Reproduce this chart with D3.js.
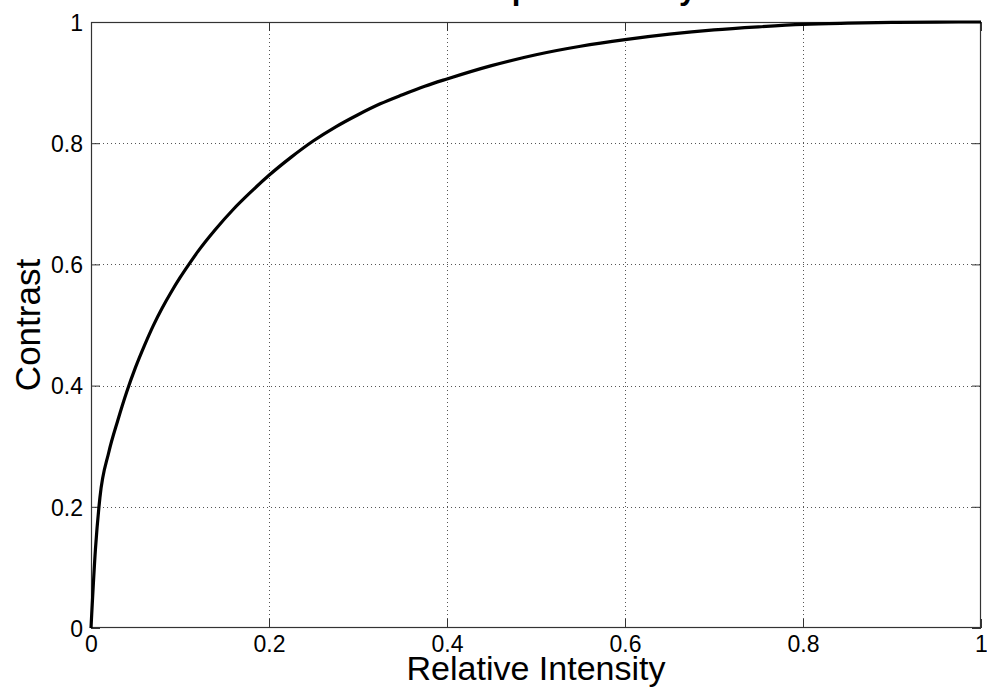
<!DOCTYPE html>
<html>
<head>
<meta charset="utf-8">
<script src="https://cdn.jsdelivr.net/npm/d3@7"></script>
<style>
  html, body { margin: 0; padding: 0; background: #fff; }
  svg { display: block; }
  text { font-family: Arial, "Liberation Sans", sans-serif; fill: #000; }
</style>
</head>
<body>
<script>
// ---- data ----
const titleText = "Contrast per Intensity";
const xLabel = "Relative Intensity";
const yLabel = "Contrast";
const xTicks = [0, 0.2, 0.4, 0.6, 0.8, 1];
const yTicks = [0, 0.2, 0.4, 0.6, 0.8, 1];
const xTickLabels = ["0", "0.2", "0.4", "0.6", "0.8", "1"];
const yTickLabels = ["0", "0.2", "0.4", "0.6", "0.8", "1"];
const intensity = [0, 0.005, 0.01, 0.02, 0.03, 0.04, 0.05, 0.06, 0.07, 0.08, 0.09, 0.10, 0.11, 0.12,
  0.14, 0.16, 0.18, 0.20, 0.225, 0.25, 0.275, 0.30, 0.325, 0.35, 0.375, 0.40, 0.45, 0.50,
  0.55, 0.60, 0.65, 0.70, 0.75, 0.80, 0.85, 0.90, 0.95, 1.0];
const contrast = [0, 0.13, 0.215, 0.29, 0.342, 0.389, 0.430, 0.466, 0.499, 0.528, 0.554, 0.578, 0.600, 0.621,
  0.658, 0.691, 0.720, 0.747, 0.777, 0.804, 0.827, 0.847, 0.865, 0.880, 0.894, 0.906, 0.928, 0.946,
  0.960, 0.971, 0.980, 0.987, 0.992, 0.996, 0.998, 0.9993, 0.9999, 1.0];

// ---- layout ----
const W = 987, H = 696;
const L = 91, R = 981, T = 22, B = 628;

const svg = d3.select("body").append("svg").attr("width", W).attr("height", H);

const x = d3.scaleLinear().domain([0, 1]).range([L, R]);
const y = d3.scaleLinear().domain([0, 1]).range([B, T]);

// grid (dotted)
const grid = svg.append("g");
grid.selectAll("line.gx").data(xTicks.slice(1, -1)).join("line")
  .attr("x1", d => Math.round(x(d)) + 0.5).attr("x2", d => Math.round(x(d)) + 0.5)
  .attr("y1", T).attr("y2", B)
  .attr("stroke", "#555").attr("stroke-width", 1).attr("stroke-dasharray", "1,3");
grid.selectAll("line.gy").data(yTicks.slice(1, -1)).join("line")
  .attr("y1", d => Math.round(y(d)) + 0.5).attr("y2", d => Math.round(y(d)) + 0.5)
  .attr("x1", L).attr("x2", R)
  .attr("stroke", "#555").attr("stroke-width", 1).attr("stroke-dasharray", "1,3");

// axes with inward ticks
const tickLen = 9;
const axB = svg.append("g").attr("transform", `translate(0,${B})`)
  .call(d3.axisBottom(x).tickValues(xTicks).tickFormat((d, i) => xTickLabels[i])
    .tickSizeInner(-tickLen).tickSizeOuter(0).tickPadding(8));
const axL = svg.append("g").attr("transform", `translate(${L},0)`)
  .call(d3.axisLeft(y).tickValues(yTicks).tickFormat((d, i) => yTickLabels[i])
    .tickSizeInner(-tickLen).tickSizeOuter(0).tickPadding(8));
const axT = svg.append("g").attr("transform", `translate(0,${T})`)
  .call(d3.axisTop(x).tickValues(xTicks).tickFormat("")
    .tickSizeInner(-tickLen).tickSizeOuter(0));
const axR = svg.append("g").attr("transform", `translate(${R},0)`)
  .call(d3.axisRight(y).tickValues(yTicks).tickFormat("")
    .tickSizeInner(-tickLen).tickSizeOuter(0));

[axB, axL, axT, axR].forEach(g => {
  g.attr("font-size", null).attr("font-family", null);
  g.select(".domain").remove();
  g.selectAll(".tick line").attr("stroke", "#333");
  g.selectAll("text").style("font-size", "23px").style("font-family", "Arial, 'Liberation Sans', sans-serif").attr("fill", "#000");
});
axL.selectAll("text").attr("dy", "0.36em");

// box
svg.append("rect").attr("x", L + 0.5).attr("y", T + 0.5)
  .attr("width", R - L - 1).attr("height", B - T - 1)
  .attr("fill", "none").attr("stroke", "#333").attr("stroke-width", 1.2);

// curve
const pts = intensity.map((v, i) => [v, contrast[i]]);
svg.append("path").datum(pts)
  .attr("d", d3.line().x(d => x(d[0])).y(d => y(d[1])).curve(d3.curveMonotoneX))
  .attr("fill", "none").attr("stroke", "#000").attr("stroke-width", 3.2)
  .attr("stroke-linejoin", "round");

// labels
svg.append("text").attr("x", (L + R) / 2).attr("y", 680)
  .attr("text-anchor", "middle").style("font-size", "34px").text(xLabel);
svg.append("text").attr("transform", `translate(40,${(T + B) / 2}) rotate(-90)`)
  .attr("text-anchor", "middle").style("font-size", "35px").text(yLabel);
svg.append("text").attr("x", (L + R) / 2).attr("y", -1)
  .attr("text-anchor", "middle").style("font-size", "31px").attr("font-weight", "bold").text(titleText);
</script>
</body>
</html>
